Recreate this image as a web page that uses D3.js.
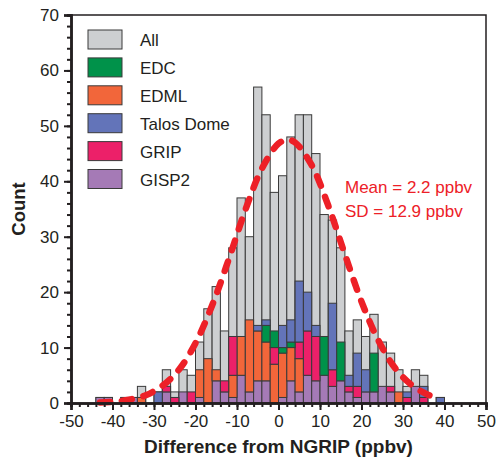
<!DOCTYPE html>
<html>
<head>
<meta charset="utf-8">
<script src="https://cdn.jsdelivr.net/npm/d3@7"></script>
<style>
  body { margin: 0; background: #fff; }
  svg { display: block; font-family: "Liberation Sans", Arial, sans-serif; }
</style>
</head>
<body>
<svg id="viz_area" width="496" height="458"></svg>
<script>
// left edge of each 2 ppbv bin
const binStart = [-44,-42,-40,-38,-36,-34,-32,-30,-28,-26,-24,-22,-20,-18,-16,-14,-12,-10,-8,-6,-4,-2,0,2,4,6,8,10,12,14,16,18,20,22,24,26,28,30,32,34,36,38];

const allCounts  = [1,1,0,1,1,3,0,2,6,2,6,5,11,17,21,13,28,37,30,57,52,38,41,48,52,52,45,34,33,28,13,15,12,16,11,9,6,3,6,5,0,1];
const gisp2      = [1,1,0,1,1,0,0,0,2,0,2,0,1,0,4,2,1,5,2,4,4,0,1,4,2,5,4,5,3,4,2,1,2,2,3,2,0,0,3,0,0,0];
const edml       = [0,0,0,0,0,1,0,0,0,0,0,0,5,8,2,0,4,7,13,9,7,7,8,6,6,0,0,0,0,0,0,0,0,0,0,0,2,0,0,0,0,0];
const grip       = [0,0,0,0,0,0,0,0,1,1,0,2,0,0,0,2,7,0,0,0,0,3,0,0,3,8,8,0,3,0,1,2,0,0,0,1,0,1,0,1,0,0];
const edc        = [0,0,0,0,0,0,0,0,0,0,0,0,0,0,0,0,0,0,0,0,3,3,1,1,0,0,0,7,0,7,0,0,0,7,0,0,0,0,0,0,0,0];
const talosDome  = [0,0,0,0,0,0,0,2,0,0,0,0,0,0,0,0,0,0,0,1,1,0,4,4,11,7,2,0,12,0,2,6,4,0,0,0,0,1,0,2,0,1];

// normal fit
const fitX = [-43,-40,-36,-32,-28,-24,-20,-16,-12,-8,-4,0,2.2,4,8,12,16,20,24,28,32,36,39];
const fitY = [0.1,0.2,0.6,1.4,3.1,6.0,10.8,17.6,25.9,34.8,42.3,46.8,47.5,47.0,42.9,35.6,26.8,18.3,11.4,6.4,3.3,1.5,0.8];

const legendNames  = ["All", "EDC", "EDML", "Talos Dome", "GRIP", "GISP2"];
const legendColors = ["#cdcfd1", "#00924a", "#f2663a", "#6374b9", "#ec2069", "#a57ab6"];

const xTicks = [-50,-40,-30,-20,-10,0,10,20,30,40,50];
const yTicks = [0,10,20,30,40,50,60,70];

const run = () => {
    const margin = {top: 15, right: 10, bottom: 55, left: 71},
          width = 496 - margin.left - margin.right,
          height = 458 - margin.top - margin.bottom;

    const svg = d3.select("#viz_area")
      .append("g")
        .attr("transform", "translate(" + margin.left + "," + margin.top + ")");

    const x = d3.scaleLinear().domain([-50, 50]).range([0, width]);
    const y = d3.scaleLinear().domain([0, 70]).range([height, 0]);
    const ink = "#231f20";

    // grey "All" bars behind
    svg.selectAll(".allbar")
      .data(binStart.map((b, i) => ({b: b, v: allCounts[i]})).filter(d => d.v > 0))
      .enter().append("rect")
        .attr("x", d => x(d.b))
        .attr("y", d => y(d.v))
        .attr("width", d => x(d.b + 2) - x(d.b))
        .attr("height", d => height - y(d.v))
        .attr("fill", legendColors[0])
        .attr("stroke", "#3a3a3a")
        .attr("stroke-width", 1);

    // stacked cores, bottom to top
    const series = [
        {name: "GISP2", vals: gisp2, color: legendColors[5]},
        {name: "EDML", vals: edml, color: legendColors[2]},
        {name: "GRIP", vals: grip, color: legendColors[4]},
        {name: "EDC", vals: edc, color: legendColors[1]},
        {name: "Talos Dome", vals: talosDome, color: legendColors[3]}
    ];
    const table = binStart.map((b, i) => {
        const row = {b: b};
        series.forEach(s => { row[s.name] = s.vals[i]; });
        return row;
    });
    const stacked = d3.stack().keys(series.map(s => s.name))(table);

    svg.selectAll(".layer")
      .data(stacked)
      .enter().append("g")
        .attr("fill", (d, i) => series[i].color)
      .selectAll("rect")
      .data(d => d.filter(p => p[1] > p[0]))
      .enter().append("rect")
        .attr("x", d => x(d.data.b))
        .attr("y", d => y(d[1]))
        .attr("width", d => x(d.data.b + 2) - x(d.data.b))
        .attr("height", d => y(d[0]) - y(d[1]))
        .attr("stroke", "#3a3a3a")
        .attr("stroke-width", 1);

    // dashed normal curve
    const line = d3.line()
        .x(d => x(d[0]))
        .y(d => y(d[1]))
        .curve(d3.curveCatmullRom);
    svg.append("path")
        .datum(fitX.map((v, i) => [v, fitY[i]]))
        .attr("d", line)
        .attr("fill", "none")
        .attr("stroke", "#ed2027")
        .attr("stroke-width", 6.5)
        .attr("stroke-linecap", "round")
        .attr("stroke-dasharray", "10 12");

    // frame top and right
    svg.append("path")
        .attr("d", "M0,0H" + width + "V" + height)
        .attr("fill", "none")
        .attr("stroke", ink)
        .attr("stroke-width", 1.5);

    // x axis
    const xMinor = svg.append("g")
        .attr("transform", "translate(0," + height + ")")
        .call(d3.axisBottom(x).tickValues(d3.range(-50, 51, 2)).tickSize(4).tickFormat(""));
    const xMajor = svg.append("g")
        .attr("transform", "translate(0," + height + ")")
        .call(d3.axisBottom(x).tickValues(xTicks).tickSize(7).tickPadding(5).tickFormat(d3.format("d")));
    xMajor.selectAll("text")
        .attr("font-size", 17)
        .attr("fill", ink)
        .attr("font-family", "Liberation Sans, Arial, sans-serif")
        .text(d => d < 0 ? "-" + Math.abs(d) : d);

    // y axis
    const yMinor = svg.append("g")
        .call(d3.axisLeft(y).tickValues(d3.range(0, 71, 2)).tickSize(4).tickFormat(""));
    const yMajor = svg.append("g")
        .call(d3.axisLeft(y).tickValues(yTicks).tickSize(7).tickPadding(5));
    yMajor.selectAll("text")
        .attr("font-size", 17)
        .attr("fill", ink)
        .attr("font-family", "Liberation Sans, Arial, sans-serif");

    [xMinor, xMajor, yMinor, yMajor].forEach(g => {
        g.select(".domain").attr("stroke", ink).attr("stroke-width", 2.5);
        g.selectAll(".tick line").attr("stroke", ink).attr("stroke-width", 2);
    });

    // axis titles
    svg.append("text")
        .attr("x", x(0))
        .attr("y", height + 50)
        .attr("text-anchor", "middle")
        .attr("font-size", 19)
        .attr("font-weight", "bold")
        .attr("fill", ink)
        .text("Difference from NGRIP (ppbv)");
    svg.append("text")
        .attr("transform", "translate(" + (-46) + "," + (height / 2) + ") rotate(-90)")
        .attr("text-anchor", "middle")
        .attr("font-size", 18.5)
        .attr("font-weight", "bold")
        .attr("fill", ink)
        .text("Count");

    // legend
    const legend = svg.append("g").attr("transform", "translate(17,15)");
    const rows = legend.selectAll("g")
        .data(legendNames)
        .enter().append("g")
          .attr("transform", (d, i) => "translate(0," + (i * 27.9) + ")");
    rows.append("rect")
        .attr("width", 34)
        .attr("height", 19)
        .attr("fill", (d, i) => legendColors[i])
        .attr("stroke", "#3a3a3a")
        .attr("stroke-width", 1);
    rows.append("text")
        .attr("x", 52)
        .attr("y", 16)
        .attr("font-size", 17)
        .attr("fill", ink)
        .text(d => d);

    // fit annotation
    const note = svg.append("g")
        .attr("fill", "#ed2027")
        .attr("font-size", 17);
    note.append("text").attr("x", 274).attr("y", 178).text("Mean = 2.2 ppbv");
    note.append("text").attr("x", 274).attr("y", 202).text("SD = 12.9 ppbv");
};
window.onload = run;
</script>
</body>
</html>
